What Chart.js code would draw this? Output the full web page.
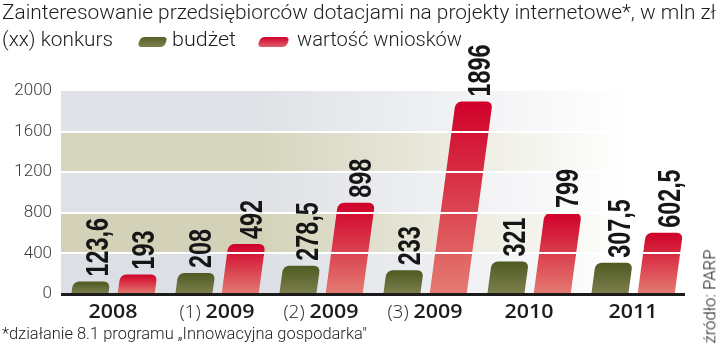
<!DOCTYPE html>
<html>
<head>
<meta charset="utf-8">
<script src="https://cdn.jsdelivr.net/npm/chart.js@4.4.1/dist/chart.umd.min.js"></script>
<style>
  html, body { margin: 0; padding: 0; background: #ffffff; }
  body { width: 720px; height: 355px; position: relative; overflow: hidden; }
  #chart { position: absolute; left: 0; top: 0; }
  .t { position: absolute; display: inline-block; width: max-content; white-space: nowrap; line-height: 1; color: #1c1c1c; font-family: Roboto, "Liberation Sans", sans-serif; font-weight: 300; transform-origin: 0 0; }
  .sw { position: absolute; border-radius: 4px; transform: skewX(-20deg); }
</style>
</head>
<body>
<canvas id="chart" width="720" height="355"></canvas>
<script>
// ---- data ----
const categories = ['2008', '(1) 2009', '(2) 2009', '(3) 2009', '2010', '2011'];
const budzet = [123.6, 208, 278.5, 233, 321, 307.5];
const wnioski = [193, 492, 898, 1896, 799, 602.5];
const yTicks = [0, 400, 800, 1200, 1600, 2000];
const seriesNames = ['budżet', 'wartość wniosków'];

const title = 'Zainteresowanie przedsiębiorców dotacjami na projekty internetowe*, w mln zł';
const legendLead = '(xx) konkurs';
const footnote = '*działanie 8.1 programu „Innowacyjna gospodarka"';
const source = 'źródło: PARP';

// ---- HTML texts ----
const fits = [];
function txt(str, x, top, size, width) {
  const s = document.createElement('span');
  s.className = 't';
  s.textContent = str;
  s.style.left = x + 'px';
  s.style.top = top + 'px';
  s.style.fontSize = size + 'px';
  document.body.appendChild(s);
  fits.push(() => {
    s.style.transform = 'none';
    const w = s.getBoundingClientRect().width;
    s.style.transform = 'scaleX(' + (width / w) + ')';
  });
  return s;
}
txt(title, 2, 2, 21, 714);
txt(legendLead, 2, 29, 20, 111);
txt(seriesNames[0], 172, 29, 20, 64);
txt(seriesNames[1], 297, 29, 20, 165);
txt(footnote, 2, 325, 17, 365);

// legend swatches
function swatch(x, y, w, h, c1, c2) {
  const d = document.createElement('div');
  d.className = 'sw';
  Object.assign(d.style, { left: x + 'px', top: y + 'px', width: w + 'px', height: h + 'px',
    background: 'linear-gradient(to bottom,' + c1 + ',' + c2 + ')' });
  document.body.appendChild(d);
}
swatch(139, 37, 27, 10, '#56612a', '#7c804c');
swatch(259, 37, 29, 10, '#d0022e', '#e0606a');

// rotated source
(function () {
  const s = document.createElement('span');
  s.className = 't';
  s.textContent = source;
  s.style.fontSize = '17px';
  document.body.appendChild(s);
  fits.push(() => {
    s.style.transform = 'none';
    const r = s.getBoundingClientRect();
    const w = r.width, h = r.height;
    const len = 94, sc = len / w;
    const cx = 710, cy = 296;
    s.style.left = (cx - w / 2) + 'px';
    s.style.top = (cy - h / 2) + 'px';
    s.style.transformOrigin = '50% 50%';
    s.style.transform = 'rotate(-90deg) scaleX(' + sc + ')';
  });
})();

function runFits() { fits.forEach(f => f()); }
runFits();
if (document.fonts && document.fonts.ready) document.fonts.ready.then(runFits);

// ---- chart ----
const SKEW = 0.135;

function barGrad(topC, botC) {
  return (c) => {
    const chart = c.chart;
    if (c.type !== 'data' || !chart.chartArea || !chart.scales.y) return topC;
    const ys = chart.scales.y;
    const y0 = ys.getPixelForValue(c.raw);
    const y1 = ys.getPixelForValue(0);
    if (!isFinite(y0) || !isFinite(y1) || y0 === y1) return topC;
    const g = chart.ctx.createLinearGradient(0, y0, 0, y1);
    g.addColorStop(0, topC);
    g.addColorStop(1, botC);
    return g;
  };
}

const bandPlugin = {
  id: 'bands',
  beforeDatasetsDraw(chart) {
    const { ctx, chartArea: a, scales: { y } } = chart;
    const cols = ['#dcdfe5', '#d3d2b9', '#dfe1e6', '#d6d5be', '#e0e2e7'];
    ctx.save();
    for (let i = 0; i < yTicks.length - 1; i++) {
      const yt = y.getPixelForValue(yTicks[i + 1]);
      const yb = y.getPixelForValue(yTicks[i]);
      const g = ctx.createLinearGradient(a.left, 0, 630, 0);
      g.addColorStop(0, cols[i]);
      g.addColorStop(0.35, cols[i]);
      g.addColorStop(1, '#ffffff');
      ctx.fillStyle = g;
      ctx.fillRect(a.left, yt, a.right - a.left, yb - yt);
    }
    ctx.restore();
    // start skew for the bars
    const base = y.getPixelForValue(0);
    ctx.save();
    ctx.transform(1, 0, -SKEW, 1, SKEW * base, 0);
  },
  afterDatasetsDraw(chart) {
    chart.ctx.restore();
  }
};

const labelPlugin = {
  id: 'vlabels',
  afterDraw(chart) {
    const { ctx, chartArea: a, scales: { x, y } } = chart;
    // grid lines over the bars
    ctx.save();
    ctx.setTransform(1, 0, 0, 1, 0, 0);
    yTicks.forEach(v => {
      if (v === yTicks[yTicks.length - 1]) return;
      const py = Math.round(y.getPixelForValue(v));
      if (v === 0) {
        ctx.fillStyle = '#1b1b1b';
        ctx.fillRect(a.left, py - 1, a.right - a.left, 3);
      } else {
        ctx.fillStyle = '#ffffff';
        ctx.fillRect(a.left, py - 1, a.right - a.left, 2);
      }
    });
    ctx.restore();

    // value labels
    const SX = 0.73, size = 32;
    ctx.save();
    ctx.font = 'bold ' + size + 'px "Liberation Sans", Arial, sans-serif';
    ctx.fillStyle = '#161616';
    ctx.textAlign = 'left';
    ctx.textBaseline = 'alphabetic';
    const cap = 0.716 * size;
    chart.data.datasets.forEach((ds, di) => {
      const meta = chart.getDatasetMeta(di);
      meta.data.forEach((el, i) => {
        const t = String(ds.data[i]).replace('.', ',');
        const L = ctx.measureText(t).width * SX;
        const start = el.y - 5;
        const mid = start - L / 2;
        const cx = el.x + SKEW * (el.base - mid);
        ctx.save();
        ctx.translate(cx + cap / 2, start);
        ctx.rotate(-Math.PI / 2);
        ctx.scale(SX, 1);
        ctx.fillText(t, 0, 0);
        ctx.restore();
      });
    });
    ctx.restore();

    // category labels
    ctx.save();
    ctx.fillStyle = '#1c1c1c';
    ctx.textBaseline = 'alphabetic';
    ctx.textAlign = 'left';
    const boldF = '600 19px "Open Sans", Roboto, sans-serif';
    const lightF = '300 19px "Open Sans", Roboto, sans-serif';
    ctx.font = boldF;
    const ysc = 49 / ctx.measureText('2008').width;
    categories.forEach((lab, i) => {
      const cx = x.getPixelForValue(i);
      const m = lab.match(/^(\(\d\))\s*(.*)$/);
      const pre = m ? m[1] : '';
      const yr = m ? m[2] : lab;
      ctx.font = lightF;
      const pw = pre ? ctx.measureText(pre).width : 0;
      const gap = pre ? 5 : 0;
      ctx.font = boldF;
      const yw = ctx.measureText(yr).width * ysc;
      const total = pw + gap + yw;
      let sx = cx - total / 2;
      if (pre) {
        ctx.font = lightF;
        ctx.fillText(pre, sx, 318);
        sx += pw + gap;
      }
      ctx.font = boldF;
      ctx.save();
      ctx.translate(sx, 318);
      ctx.scale(ysc, 1);
      ctx.fillText(yr, 0, 0);
      ctx.restore();
    });
    ctx.restore();
  }
};

new Chart(document.getElementById('chart'), {
  type: 'bar',
  data: {
    labels: categories,
    datasets: [
      { label: seriesNames[0], data: budzet, backgroundColor: barGrad('#4f5a22', '#7d804e') },
      { label: seriesNames[1], data: wnioski, backgroundColor: barGrad('#d00029', '#e47b72') }
    ]
  },
  options: {
    responsive: false,
    animation: false,
    devicePixelRatio: 1,
    layout: { padding: { top: 91, right: 35, left: 0, bottom: 0 } },
    datasets: {
      bar: {
        categoryPercentage: 0.89,
        barPercentage: 0.8,
        borderRadius: { topLeft: 6, topRight: 6, bottomLeft: 0, bottomRight: 0 },
        borderSkipped: 'bottom'
      }
    },
    plugins: { legend: { display: false }, tooltip: { enabled: false }, title: { display: false } },
    scales: {
      x: {
        grid: { display: false },
        border: { display: false },
        ticks: { display: false },
        afterFit: (s) => { s.height = 61; }
      },
      y: {
        min: 0,
        max: 2000,
        afterBuildTicks: (s) => { s.ticks = yTicks.map(v => ({ value: v })); },
        border: { display: false },
        grid: { display: false, drawTicks: false },
        ticks: {
          padding: 9,
          color: '#3a3a3a',
          font: { family: 'Roboto, "Liberation Sans", sans-serif', size: 17, weight: '300' },
          callback: (v) => String(v)
        },
        afterFit: (s) => { s.width = 61; }
      }
    }
  },
  plugins: [bandPlugin, labelPlugin]
});
</script>
</body>
</html>
